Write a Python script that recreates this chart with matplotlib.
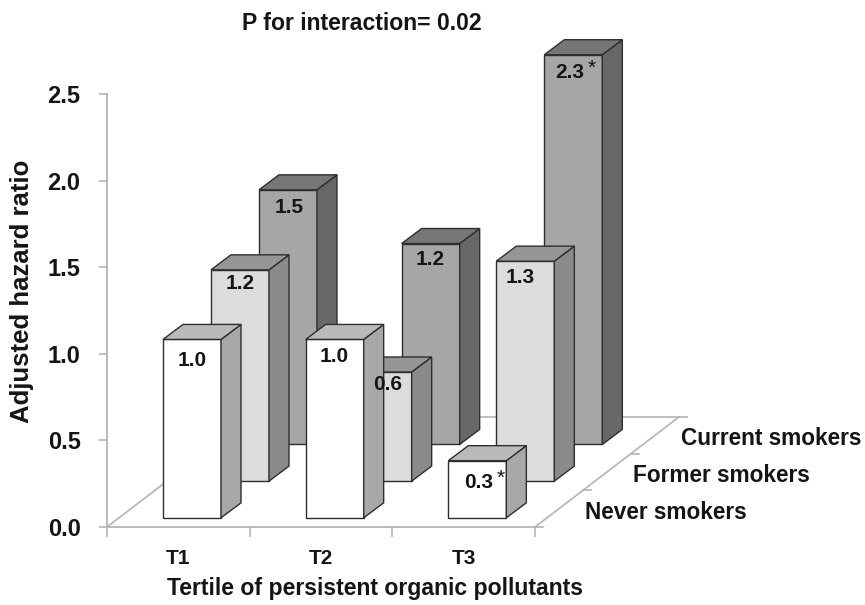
import matplotlib
matplotlib.use("Agg")
import matplotlib.pyplot as plt
from matplotlib.patches import Polygon

# data
TERTILES = ["T1", "T2", "T3"]
GROUPS = ["Never smokers", "Former smokers", "Current smokers"]
never_heights = [1.03, 1.03, 0.33]
former_heights = [1.22, 0.63, 1.27]
current_heights = [1.47, 1.16, 2.25]
never_labels = ["1.0", "1.0", "0.3*"]
former_labels = ["1.2", "0.6", "1.3"]
current_labels = ["1.5", "1.2", "2.3*"]
y_ticks = [0.0, 0.5, 1.0, 1.5, 2.0, 2.5]

HEIGHTS = [never_heights, former_heights, current_heights]
LABELS = [never_labels, former_labels, current_labels]

# face, side, top colours per row
ROW_COLORS = [
    ("#ffffff", "#a8a8a8", "#bababa"),
    ("#dcdcdc", "#8a8a8a", "#969696"),
    ("#a6a6a6", "#686868", "#767676"),
]
AXIS_COLOR = "#b4b4b4"
EDGE = "#2e2e2e"
INK = "#151515"

W, H = 865, 605
LEFT, RIGHT, BOTTOM, TOP = 107, 535, 527, 94  # plot box in pixels
PX_X = (RIGHT - LEFT) / 3      # pixels per category
PX_Y = (BOTTOM - TOP) / 2.5    # pixels per unit of ratio

ROW_DX, ROW_DY = 48 / PX_X, 36.7 / PX_Y      # oblique shift of one row
BAR_DX, BAR_DY = 20 / PX_X, 15 / PX_Y        # depth of one bar
BAR_W = 58 / PX_X
BAR_START = 44 / PX_X                        # left gap inside a category
ROW_FRONT = 0.25                             # bar front inside its row


def project(x, depth, value):
    return x + depth * ROW_DX, value + depth * ROW_DY


def draw_bar(ax, cat, row, value, order):
    face, side, top = ROW_COLORS[row]
    x0, y0 = project(cat + BAR_START, row + ROW_FRONT, 0)
    x1 = x0 + BAR_W
    y1 = y0 + value
    ax.add_patch(Polygon([(x0, y0), (x1, y0), (x1, y1), (x0, y1)], fc=face,
                         ec=EDGE, lw=1.0, clip_on=False, zorder=order))
    ax.add_patch(Polygon([(x1, y0), (x1 + BAR_DX, y0 + BAR_DY),
                          (x1 + BAR_DX, y1 + BAR_DY), (x1, y1)], fc=side,
                         ec=EDGE, lw=1.0, clip_on=False, zorder=order))
    ax.add_patch(Polygon([(x0, y1), (x1, y1), (x1 + BAR_DX, y1 + BAR_DY),
                          (x0 + BAR_DX, y1 + BAR_DY)], fc=top,
                         ec=EDGE, lw=1.0, clip_on=False, zorder=order))
    return (x0 + x1) / 2, y1


plt.rcParams["font.family"] = ["Liberation Sans", "DejaVu Sans"]
plt.rcParams["font.weight"] = "bold"

fig = plt.figure(figsize=(W / 100, H / 100), dpi=100, facecolor="white")
ax = fig.add_axes([LEFT / W, 1 - BOTTOM / H, (RIGHT - LEFT) / W, (BOTTOM - TOP) / H])
ax.set_xlim(0, 3)
ax.set_ylim(0, 2.5)
ax.patch.set_visible(False)

for s in ["top", "right"]:
    ax.spines[s].set_visible(False)
for s in ["left", "bottom"]:
    ax.spines[s].set_color(AXIS_COLOR)
    ax.spines[s].set_linewidth(1.3)

ax.set_yticks(y_ticks, [f"{v:.1f}" for v in y_ticks])
ax.set_xticks([0, 1, 2, 3], [])
ax.set_xticks([0.5, 1.5, 2.5], TERTILES, minor=True)
ax.tick_params(axis="y", length=6, width=1.2, color=AXIS_COLOR, labelsize=17,
               pad=13, labelcolor=INK)
ax.tick_params(axis="x", which="major", length=7, width=1.2, color=AXIS_COLOR)
ax.tick_params(axis="x", which="minor", length=0, pad=16, labelsize=15, labelcolor=INK)
for lab in ax.get_xticklabels(minor=True):
    lab.set_fontweight("bold")

# floor outline and depth ticks
depth = len(GROUPS)
line = dict(color=AXIS_COLOR, lw=1.2, clip_on=False, zorder=1)
for start in (0, 3):
    xs, ys = zip(project(start, 0, 0), project(start, depth, 0))
    ax.plot(xs, ys, **line)
xs, ys = zip(project(0, depth, 0), project(3, depth, 0))
ax.plot(xs, ys, **line)
for d in range(depth + 1):
    x, y = project(3, d, 0)
    ax.plot([x, x + 8 / PX_X], [y, y], **line)

# small per-bar pixel nudges for the value labels: (dx, drop below top)
NUDGE = [
    [(0, 21), (0, 17), (1, 22)],
    [(0, 14), (5, 12), (-5, 16)],
    [(1, 18), (0, 16), (-4, 18)],
]

order = 3
texts = []
for row in reversed(range(depth)):
    for cat in range(len(TERTILES)):
        cx, top_y = draw_bar(ax, cat, row, HEIGHTS[row][cat], order)
        order += 1
        dx, drop = NUDGE[row][cat]
        texts.append((cx + dx / PX_X, top_y - drop / PX_Y, LABELS[row][cat]))

for x, y, label in texts:
    ax.text(x, y, label.rstrip("*"), ha="center", va="center", fontsize=15,
            color=INK, clip_on=False, zorder=50)
    if label.endswith("*"):
        ax.annotate("*", (x, y), xytext=(13, 3), textcoords="offset points",
                    fontsize=15, fontweight="normal", color=INK, ha="left",
                    va="center", zorder=50, annotation_clip=False)

# row names beside the floor
for d, name in enumerate(GROUPS):
    x, y = project(3, d + 0.5, 0)
    ax.annotate(name, (x, y), xytext=(19, -2.6), textcoords="offset points",
                fontsize=16.3, color=INK, ha="left", va="center", annotation_clip=False)

fig.text(362 / W, 1 - 23 / H, "P for interaction= 0.02", ha="center", va="center",
         fontsize=16.6, color=INK)
fig.text(375 / W, 1 - 588 / H, "Tertile of persistent organic pollutants", ha="center",
         va="center", fontsize=16.6, color=INK)
fig.text(22 / W, 1 - 291 / H, "Adjusted hazard ratio", rotation=90, ha="center",
         va="center", fontsize=18.5, color=INK)

fig.savefig("out.png", dpi=100)
